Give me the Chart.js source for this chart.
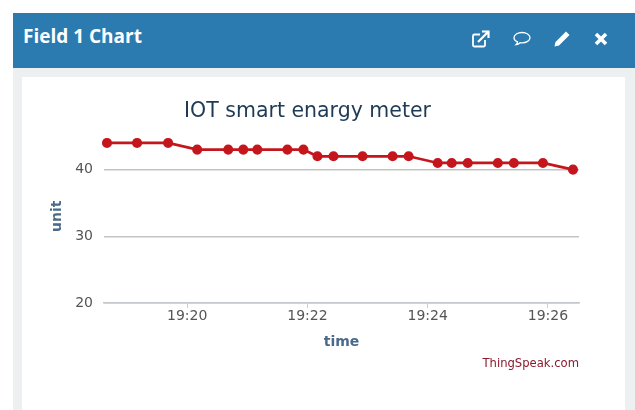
<!DOCTYPE html>
<html>
<head>
<meta charset="utf-8">
<script src="https://cdn.jsdelivr.net/npm/chart.js@4"></script>
<style>
  html, body { margin: 0; padding: 0; background: #fff; overflow: hidden; }
  #panel { position: absolute; left: 13px; top: 13px; width: 622px; height: 397px; background: #ecf0f1; }
  #head { position: absolute; left: 0; top: 0; width: 622px; height: 55px; background: #2c7bb0; }
  #head h3 { position: absolute; left: 10px; top: 10px; margin: 0; color: #fff; font: bold 19px "Open Sans", sans-serif; white-space: nowrap; }
  #head svg { position: absolute; top: 16px; width: 20px; height: 20px; }
  #body { position: absolute; left: 9px; top: 64px; width: 603px; height: 333px; background: #fff; }
  #credit { position: absolute; right: 46px; top: 279px; color: #8b1a2b; font: 11.6px "DejaVu Sans", sans-serif; white-space: nowrap; }
</style>
</head>
<body>
<div id="panel">
  <div id="head">
    <h3>Field 1 Chart</h3>
    <svg style="left:458px" viewBox="0 0 20 20" fill="none" stroke="#fff" stroke-width="1.8">
      <path d="M14 11v5a1.5 1.5 0 0 1-1.5 1.5h-9A1.5 1.5 0 0 1 2 16V7a1.5 1.5 0 0 1 1.5-1.5H9"/>
      <path d="M7 13 17 3M11 2.5h6.5V9" stroke-width="2.2"/>
    </svg>
    <svg style="left:499px" viewBox="0 0 20 20" fill="none" stroke="#fff" stroke-width="1.3">
      <path d="M10 3.5c4.4 0 8 2.3 8 5.2s-3.6 5.2-8 5.2c-.7 0-1.3 0-1.9-.2-1 1-2.400 1.800-4 2 .8-.8 1.300-1.700 1.400-2.800C3.400 12 2 10.500 2 8.700 2 5.800 5.600 3.500 10 3.500z"/>
    </svg>
    <svg style="left:539px" viewBox="0 0 20 20" fill="#fff">
      <path d="M14 2.500 17.500 6 7 16.500 2.500 17.500 3.500 13z"/>
    </svg>
    <svg style="left:578px" viewBox="0 0 20 20" fill="none" stroke="#fff" stroke-width="3.6">
      <path d="M5 5 15 15M15 5 5 15"/>
    </svg>
  </div>
  <div id="body">
    <canvas id="fieldChart" width="603" height="333"></canvas>
    <div id="credit">ThingSpeak.com</div>
  </div>
</div>
<script>
const times = ['19:18:40', '19:19:10', '19:19:41', '19:20:10', '19:20:41', '19:20:56', '19:21:10',
  '19:21:40', '19:21:56', '19:22:10', '19:22:26', '19:22:55', '19:23:25', '19:23:41',
  '19:24:10', '19:24:24', '19:24:40', '19:25:10', '19:25:26', '19:25:55', '19:26:25'];
const units = [44, 44, 44, 43, 43, 43, 43, 43, 43, 42, 42, 42, 42, 42, 41, 41, 41, 41, 41, 41, 40];
const xRange = ['19:18:37', '19:26:31'];
const yRange = [20, 46];

// time string to minutes since midnight
function toMinutes(t) {
  const p = t.split(':').map(Number);
  return p[0] * 60 + p[1] + p[2] / 60;
}

function minuteLabel(v) {
  const m = Math.round(v);
  return Math.floor(m / 60) + ':' + String(m % 60).padStart(2, '0');
}

const points = times.map(function (t, i) {
  return { x: toMinutes(t), y: units[i] };
});

const ctx = document.getElementById('fieldChart').getContext('2d');
new Chart(ctx, {
  type: 'line',
  data: {
    datasets: [{
      label: 'Field 1',
      data: points,
      borderColor: '#c4161c',
      backgroundColor: '#c4161c',
      borderWidth: 2.7,
      pointRadius: 3.7,
      pointHoverRadius: 3.7,
      tension: 0,
      clip: false
    }]
  },
  options: {
    responsive: false,
    animation: false,
    layout: { padding: { left: 14, right: 46, top: 0, bottom: 59 } },
    plugins: {
      legend: { display: false },
      tooltip: { enabled: false },
      title: {
        display: true,
        text: 'IOT smart enargy meter',
        color: '#1f3a55',
        font: { family: '"DejaVu Sans", sans-serif', size: 20.5, weight: 'normal' },
        padding: { top: 22, bottom: 6 }
      }
    },
    scales: {
      x: {
        type: 'linear',
        min: toMinutes(xRange[0]),
        max: toMinutes(xRange[1]),
        afterFit: function (scale) { scale.height = 48; },
        border: { color: '#c4c8cc', width: 1.5 },
        grid: { drawOnChartArea: false, drawTicks: true, tickLength: 5, tickColor: '#c0d0e0' },
        ticks: {
          stepSize: 2,
          includeBounds: false,
          autoSkip: false,
          maxRotation: 0,
          padding: 0,
          color: '#555',
          font: { family: '"DejaVu Sans", sans-serif', size: 14 },
          callback: minuteLabel
        },
        title: {
          display: true,
          text: 'time',
          color: '#4a6a8a',
          font: { family: '"DejaVu Sans", sans-serif', size: 14, weight: 'bold' },
          padding: { top: 3, bottom: 0 }
        }
      },
      y: {
        min: yRange[0],
        max: yRange[1],
        afterFit: function (scale) { scale.width = 68; },
        border: { display: false },
        grid: { color: '#c4c4c4', lineWidth: 1.5, drawTicks: false },
        ticks: {
          stepSize: 10,
          includeBounds: false,
          padding: 11,
          color: '#555',
          font: { family: '"DejaVu Sans", sans-serif', size: 14 }
        },
        title: {
          display: true,
          text: 'unit',
          color: '#4a6a8a',
          font: { family: '"DejaVu Sans", sans-serif', size: 14, weight: 'bold' },
          padding: { top: 13, bottom: 0 }
        }
      }
    }
  }
});
</script>
</body>
</html>
